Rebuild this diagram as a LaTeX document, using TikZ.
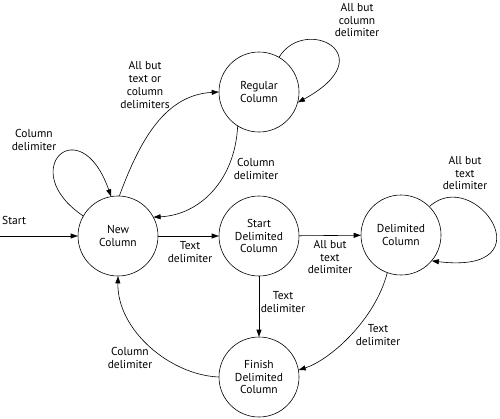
\documentclass[tikz,border=0pt]{standalone}
\usepackage{fontspec}
\setmainfont{PT Sans}
\usetikzlibrary{arrows.meta}
\tikzset{
  state/.style={circle, draw, line width=0.6pt, minimum size=80pt,
    inner sep=0pt, align=center, font=\fontsize{11.5}{12.8}\selectfont},
  trans/.style={-{Triangle[length=7pt,width=5pt]}, line width=0.6pt},
  edgetext/.style={align=center, inner sep=1pt,
    font=\fontsize{11.5}{12.8}\selectfont}
}

\begin{document}
\begin{tikzpicture}[x=1pt,y=-1pt]

  \path[use as bounding box] (0,0) rectangle (500,418);

  % states
  \node[state] (newcol)   at (118,236) {New\\Column};
  \node[state] (regcol)   at (259,92)  {Regular\\Column};
  \node[state] (startdel) at (259,236) {Start\\Delimited\\Column};
  \node[state] (delim)    at (401,235) {Delimited\\Column};
  \node[state] (finish)   at (259,377) {Finish\\Delimited\\Column};

  % start arrow
  \coordinate (start) at (0,236);
  \node[edgetext, anchor=west] (starttext) at (1,220) {Start};
  \draw[trans] (start) -- (newcol);

  % New Column
  \draw[trans] (newcol.150) .. controls (15,170) and (80,108) .. (newcol.100);
  \node[edgetext] (ncloop) at (34,140) {Column\\delimiter};

  \draw[trans] (newcol.88) .. controls (140,140) and (165,95) .. (regcol.west);
  \node[edgetext] (ncreg) at (145,85) {All but\\text or\\column\\delimiters};

  \draw[trans] (newcol) -- (startdel);
  \node[edgetext] (ncsd) at (190,252) {Text\\delimiter};

  % Regular Column
  \draw[trans] (regcol.60) .. controls (305,15) and (385,55) .. (regcol.-15);
  \node[edgetext] (rcloop) at (357,20) {All but\\column\\delimiter};

  \draw[trans] (regcol.238) .. controls (235,180) and (200,215) .. (newcol.28);
  \node[edgetext] (rcnc) at (256,169) {Column\\delimiter};

  % Start Delimited Column
  \draw[trans] (startdel) -- (delim);
  \node[edgetext] (sddl) at (330,257) {All but\\text\\delimiter};

  \draw[trans] (startdel) -- (finish);
  \node[edgetext] (sdfd) at (283,302) {Text\\delimiter};

  % Delimited Column
  \draw[trans] (delim.45) .. controls (475,165) and (550,275) .. (delim.-40);
  \node[edgetext] (dlloop) at (465,173) {All but\\text\\delimiter};

  \draw[trans] (delim.250) .. controls (375,320) and (330,360) .. (finish.10);
  \node[edgetext] (dlfd) at (378,335) {Text\\delimiter};

  % Finish Delimited Column
  \draw[trans] (finish.180) .. controls (170,375) and (117,330) .. (newcol.south);
  \node[edgetext] (fdnc) at (130,358) {Column\\delimiter};

\end{tikzpicture}
\end{document}
